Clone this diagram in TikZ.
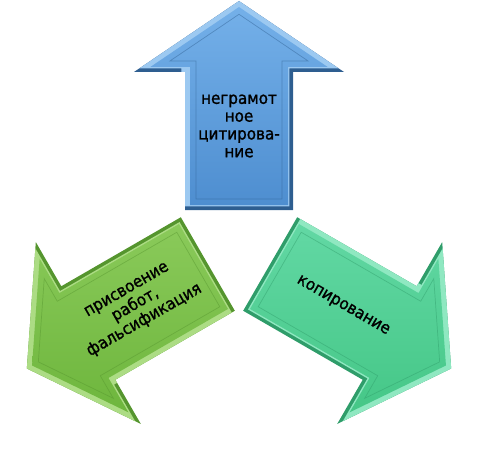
\documentclass[tikz,border=0pt]{standalone}
\usepackage{fontspec}
\setmainfont{DejaVu Sans}
\newfontfamily\lblfont{DejaVu Sans}[FakeBold=1.2, FakeStretch=0.92]
\usetikzlibrary{calc}
\definecolor{bL}{HTML}{9CC9F1}\definecolor{bD}{HTML}{2E5E90}
\definecolor{bT}{HTML}{74B0E9}\definecolor{bB}{HTML}{4E8ED0}
\definecolor{gL}{HTML}{ACDC84}\definecolor{gD}{HTML}{55952E}
\definecolor{gT}{HTML}{8ACA5A}\definecolor{gB}{HTML}{6EB63D}
\definecolor{tL}{HTML}{8FE8C1}\definecolor{tD}{HTML}{2F9D6A}
\definecolor{tT}{HTML}{62D8A4}\definecolor{tB}{HTML}{45C787}
\tikzset{
  arrp/.style n args={3}{insert path={
    ($(#1)+({#2}:{36+#3})+({#2-90}:{54-#3})$) --
    ($(#1)+({#2}:{174+#3})+({#2-90}:{54-#3})$) --
    ($(#1)+({#2}:{174+#3})+({#2-90}:{105-3.264*#3})$) --
    ($(#1)+({#2}:{245-1.208*#3})$) --
    ($(#1)+({#2}:{174+#3})+({#2+90}:{105-3.264*#3})$) --
    ($(#1)+({#2}:{174+#3})+({#2+90}:{54-#3})$) --
    ($(#1)+({#2}:{36+#3})+({#2+90}:{54-#3})$) -- cycle}},
  lbl/.style={font=\lblfont\fontsize{16.5}{17.8}\selectfont, align=center, inner sep=0pt, text=black},
  innerline/.style={line width=0.7pt, draw opacity=0.45}
}
\begin{document}
\begin{tikzpicture}[x=1pt,y=1pt]
\useasboundingbox (0,0) rectangle (485,451);
\coordinate (C) at (239,205);
% light-shifted centres
\coordinate (CBl) at ($(C)+(135:5)$);
\coordinate (CGl) at ($(C)+(255:5)$);
\coordinate (CTl) at ($(C)+(15:5)$);
% blue arrow (up)
\fill[bD, arrp={C}{90}{0}];
\begin{scope}
\clip[arrp={C}{90}{0}];
\fill[bL, arrp={CBl}{90}{0}];
\end{scope}
\shade[top color=bT, bottom color=bB, arrp={C}{90}{5}];
\draw[innerline, bD, arrp={C}{90}{11}];
% green arrow (lower left)
\fill[gD, arrp={C}{210}{0}];
\begin{scope}
\clip[arrp={C}{210}{0}];
\fill[gL, arrp={CGl}{210}{0}];
\end{scope}
\shade[top color=gT, bottom color=gB, arrp={C}{210}{5}];
\draw[innerline, gD, arrp={C}{210}{11}];
% teal arrow (lower right)
\fill[tD, arrp={C}{330}{0}];
\begin{scope}
\clip[arrp={C}{330}{0}];
\fill[tL, arrp={CTl}{330}{0}];
\end{scope}
\shade[top color=tT, bottom color=tB, arrp={C}{330}{5}];
\draw[innerline, tD, arrp={C}{330}{11}];
% labels
\node[lbl] (tb) at (239,325) {неграмот\\ное\\цитирова-\\ние};
\node[lbl, rotate=30] (tg) at (136,145) {присвоение\\работ,\\фальсификация};
\node[lbl, rotate=-30] (tt) at (343,145) {копирование};
\end{tikzpicture}
\end{document}
